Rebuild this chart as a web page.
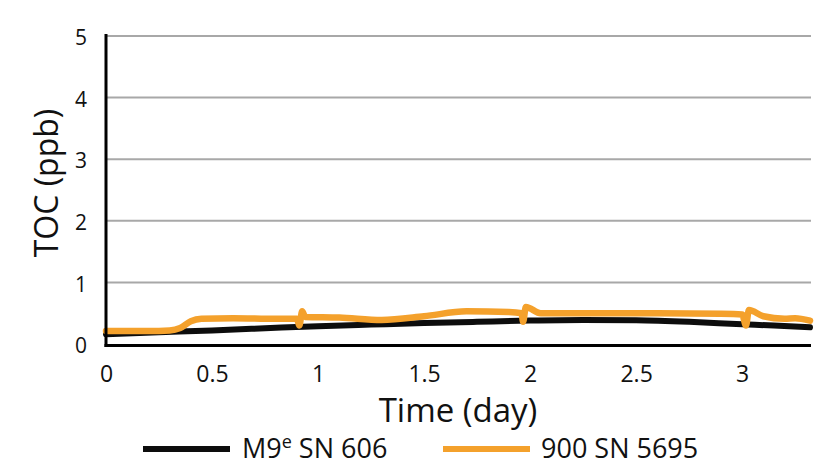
<!DOCTYPE html>
<html>
<head>
<meta charset="utf-8">
<script src="https://cdn.jsdelivr.net/npm/d3@7"></script>
<style>
  body { margin: 0; background: #fff; }
  svg { display: block; font-family: "Open Sans", "DejaVu Sans", sans-serif; }
</style>
</head>
<body>
<div id="chart"></div>
<script>
// series (day, ppb)
var m9Days = [0, 0.25, 0.5, 0.75, 1.0, 1.25, 1.5, 1.75, 2.0, 2.25, 2.5, 2.75, 3.0, 3.15, 3.32];
var m9Toc = [0.16, 0.19, 0.22, 0.255, 0.29, 0.315, 0.34, 0.36, 0.38, 0.39, 0.385, 0.36, 0.32, 0.3, 0.27];

var toc900Days = [0, 0.1, 0.2, 0.3, 0.35, 0.4, 0.45, 0.6, 0.8, 0.9, 0.912, 0.925, 0.94, 1.1, 1.3, 1.5, 1.7, 1.9, 1.96, 1.967, 1.98, 2.05, 2.5, 2.9, 3.0, 3.018, 3.032, 3.1, 3.2, 3.25, 3.32];
var toc900Toc = [0.21, 0.21, 0.21, 0.22, 0.26, 0.37, 0.41, 0.42, 0.41, 0.41, 0.3, 0.53, 0.44, 0.43, 0.39, 0.45, 0.53, 0.52, 0.5, 0.36, 0.6, 0.5, 0.5, 0.49, 0.48, 0.3, 0.55, 0.45, 0.41, 0.42, 0.38];

var xTicks = [0, 0.5, 1, 1.5, 2, 2.5, 3];
var yTicks = [0, 1, 2, 3, 4, 5];
var seriesNames = ["M9", "900 SN 5695"];
var seriesColors = ["#0d0d0d", "#f4a12c"];

var width = 839;
var height = 471;
var margin = { top: 36, right: 29, bottom: 127, left: 106 };

var svg = d3
  .select("#chart")
  .append("svg")
  .attr("width", width)
  .attr("height", height);

var xScale = d3
  .scaleLinear()
  .domain([0, 3.32])
  .range([margin.left, width - margin.right]);

var yScale = d3
  .scaleLinear()
  .domain([0, 5])
  .range([height - margin.bottom, margin.top]);

// gridlines
svg
  .append("g")
  .selectAll("line")
  .data(yTicks.filter((d) => d > 0))
  .enter()
  .append("line")
  .attr("x1", xScale(0))
  .attr("x2", xScale(3.32) + 1)
  .attr("y1", (d) => yScale(d))
  .attr("y2", (d) => yScale(d))
  .attr("stroke", "#a8a8a8")
  .attr("stroke-width", 2);

// y axis
var yAxis = d3
  .axisLeft(yScale)
  .tickValues(yTicks)
  .tickSize(0)
  .tickPadding(19)
  .tickFormat((d) => String(d));
var yG = svg
  .append("g")
  .attr("transform", `translate(${xScale(0)},2)`)
  .call(yAxis);
yG.select(".domain").remove();
yG.selectAll("text")
  .attr("font-size", "21px")
  .attr("fill", "#111")
  .style("font-family", "'Open Sans', sans-serif");

// x axis
var xAxis = d3
  .axisBottom(xScale)
  .tickValues(xTicks)
  .tickSize(0)
  .tickPadding(22)
  .tickFormat((d) => String(d));
var xG = svg
  .append("g")
  .attr("transform", `translate(0,${yScale(0)})`)
  .call(xAxis);
xG.select(".domain").remove();
xG.selectAll("text")
  .attr("font-size", "23px")
  .attr("fill", "#111")
  .style("font-family", "'Open Sans', sans-serif");

// lines
var line = d3
  .line()
  .x((d) => xScale(d[0]))
  .y((d) => yScale(d[1]))
  .curve(d3.curveMonotoneX);

svg
  .append("path")
  .datum(d3.zip(m9Days, m9Toc))
  .attr("d", line)
  .attr("fill", "none")
  .attr("stroke", seriesColors[0])
  .attr("stroke-width", 6)
  .attr("stroke-linecap", "round");

svg
  .append("path")
  .datum(d3.zip(toc900Days, toc900Toc))
  .attr("d", line)
  .attr("fill", "none")
  .attr("stroke", seriesColors[1])
  .attr("stroke-width", 6.5)
  .attr("stroke-linejoin", "round")
  .attr("stroke-linecap", "round");

// axis lines on top
svg
  .append("line")
  .attr("x1", xScale(0))
  .attr("x2", xScale(0))
  .attr("y1", margin.top - 2)
  .attr("y2", yScale(0) + 3)
  .attr("stroke", "#000")
  .attr("stroke-width", 3);
svg
  .append("line")
  .attr("x1", xScale(0) - 1.5)
  .attr("x2", xScale(3.32) + 1)
  .attr("y1", yScale(0) + 1.5)
  .attr("y2", yScale(0) + 1.5)
  .attr("stroke", "#000")
  .attr("stroke-width", 3);

// axis titles
svg
  .append("text")
  .attr("x", 458)
  .attr("y", 422)
  .attr("text-anchor", "middle")
  .attr("font-size", "33px")
  .attr("fill", "#111")
  .text("Time (day)");

svg
  .append("text")
  .attr("transform", "translate(58,183) rotate(-90)")
  .attr("text-anchor", "middle")
  .attr("font-size", "32px")
  .attr("fill", "#111")
  .text("TOC (ppb)");

// legend
var legend = svg.append("g").attr("transform", "translate(0,449)");
legend
  .append("line")
  .attr("x1", 143)
  .attr("x2", 230)
  .attr("stroke", seriesColors[0])
  .attr("stroke-width", 6);
var t1 = legend
  .append("text")
  .attr("x", 242)
  .attr("y", 9)
  .attr("font-size", "27px")
  .attr("fill", "#111");
t1.append("tspan").text(seriesNames[0]);
t1.append("tspan").attr("font-size", "18px").attr("dy", -10).text("e");
t1.append("tspan").attr("dy", 10).text(" SN 606");

legend
  .append("line")
  .attr("x1", 443)
  .attr("x2", 530)
  .attr("stroke", seriesColors[1])
  .attr("stroke-width", 6);
legend
  .append("text")
  .attr("x", 541)
  .attr("y", 9)
  .attr("font-size", "27px")
  .attr("fill", "#111")
  .text(seriesNames[1]);
</script>
</body>
</html>
